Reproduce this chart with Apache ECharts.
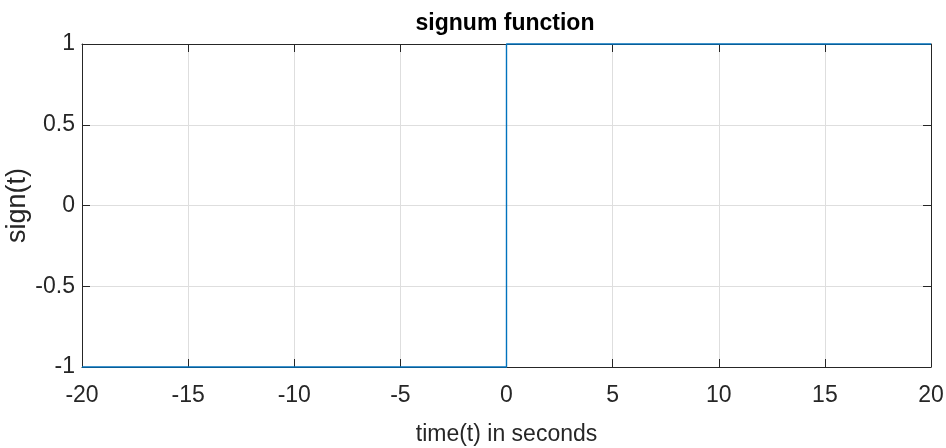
<!DOCTYPE html>
<html>
<head>
<meta charset="utf-8">
<script src="https://cdn.jsdelivr.net/npm/echarts@6/dist/echarts.min.js"></script>
<style>
  html, body { margin: 0; padding: 0; background: #fff; }
  #chart { width: 946px; height: 448px; }
</style>
</head>
<body>
<div id="chart"></div>
<script>
// signum data
const timeValues = [-20, 0, 0, 20]
const signValues = [-1, -1, 1, 1]
const xTicks = { min: -20, max: 20, interval: 5 }
const yTicks = { min: -1, max: 1, interval: 0.5 }

const FONT = '"Liberation Sans", Arial, sans-serif'
const TEXT_COLOR = '#262626'
const AXIS_COLOR = '#262626'

const chart = echarts.init(document.getElementById('chart'))

// main axis (bottom / left) with labels
const baseX = {
  type: 'value',
  min: xTicks.min,
  max: xTicks.max,
  interval: xTicks.interval,
  axisLine: { show: true, onZero: false, lineStyle: { color: AXIS_COLOR, width: 1 } },
  axisTick: { show: true, inside: true, length: 8, lineStyle: { color: AXIS_COLOR } },
  splitLine: { show: true, lineStyle: { color: '#dedede', width: 1 } }
}
const baseY = {
  type: 'value',
  min: yTicks.min,
  max: yTicks.max,
  interval: yTicks.interval,
  axisLine: { show: true, onZero: false, lineStyle: { color: AXIS_COLOR, width: 1 } },
  axisTick: { show: true, inside: true, length: 8, lineStyle: { color: AXIS_COLOR } },
  splitLine: { show: true, lineStyle: { color: '#dedede', width: 1 } }
}

const option = {
  animation: false,
  backgroundColor: '#fff',
  title: {
    text: 'signum function',
    left: 500,
    textAlign: 'center',
    top: 7,
    textStyle: { fontFamily: FONT, fontSize: 23, fontWeight: 'bold', color: '#000' }
  },
  grid: { left: 82, right: 15, top: 44, bottom: 81, containLabel: false, outerBoundsMode: 'none' },
  xAxis: [
    Object.assign({}, baseX, {
      position: 'bottom',
      name: 'time(t) in seconds',
      nameLocation: 'middle',
      nameGap: 56,
      nameMoveOverlap: false,
      nameTextStyle: { fontFamily: FONT, fontSize: 23, color: TEXT_COLOR },
      axisLabel: { fontFamily: FONT, fontSize: 23, color: TEXT_COLOR, margin: 17 }
    }),
    Object.assign({}, baseX, {
      position: 'top',
      axisLabel: { show: false },
      splitLine: { show: false }
    })
  ],
  yAxis: [
    Object.assign({}, baseY, {
      position: 'left',
      name: 'sign(t)',
      nameLocation: 'middle',
      nameGap: 51,
      nameMoveOverlap: false,
      nameTextStyle: { fontFamily: FONT, fontSize: 27, color: TEXT_COLOR },
      axisLabel: { fontFamily: FONT, fontSize: 23, color: TEXT_COLOR, margin: 7 }
    }),
    Object.assign({}, baseY, {
      position: 'right',
      axisLabel: { show: false },
      splitLine: { show: false }
    })
  ],
  series: [{
    type: 'line',
    xAxisIndex: 0,
    yAxisIndex: 0,
    data: timeValues.map((t, i) => [t, signValues[i]]),
    showSymbol: false,
    lineStyle: { color: '#0072BD', width: 1.4 },
    clip: false
  }]
}

chart.setOption(option)
</script>
</body>
</html>
